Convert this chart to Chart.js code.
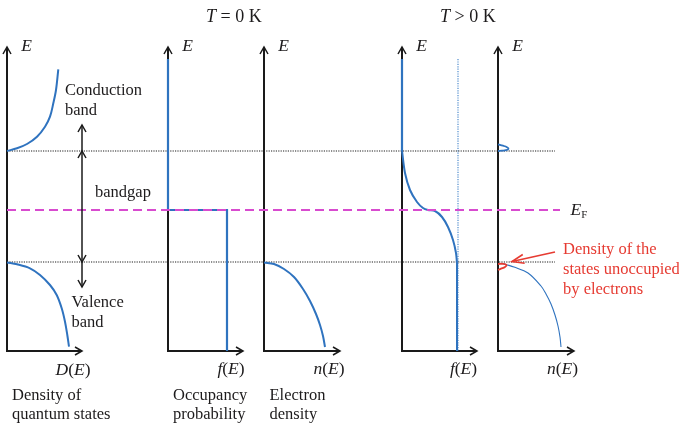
<!DOCTYPE html>
<html>
<head>
<meta charset="utf-8">
<script src="https://cdn.jsdelivr.net/npm/chart.js@4.4.1/dist/chart.umd.min.js"></script>
<style>
html,body{margin:0;padding:0;background:#ffffff;}
#wrap{width:679px;height:424px;position:relative;}
</style>
</head>
<body>
<div id="wrap"><canvas id="c" width="679" height="424"></canvas></div>
<script>
// ---------- data (energy E measured upward from the horizontal axes) ----------
const E_C = 200;      // conduction band edge
const E_F = 141;      // Fermi level
const E_V = 89;       // valence band edge
const E_TOP = 292;    // top of drawn occupancy lines
const E_AXIS = 304;   // top of the energy axes

// Panel 1: density of quantum states D(E)
const dosCondX = [0, 10, 20, 30, 38, 43, 46.3, 49, 51.3];
const dosCondE = [200, 202.7, 207, 214.3, 224.3, 234.3, 247.7, 261, 281.7];
const dosValX = [0, 10, 23, 33, 43, 49.7, 54.7, 58, 60.3, 62];
const dosValE = [88.5, 86.7, 82.7, 76, 66, 56, 42.7, 29.3, 16, 4.3];

// Panel 2: occupancy probability f(E) at T = 0 K
const occ0X = [0, 0, 59, 59];
const occ0E = [292, 141, 141, 0];

// Panel 3: electron density n(E) at T = 0 K
const dens0X = [0, 10, 20, 30, 39, 46, 52, 56, 59, 61];
const dens0E = [88.5, 87, 82, 74, 62, 50, 37, 26, 15, 4];

// Panel 4: occupancy probability f(E) at T > 0 K
const fermiX = [0, 3, 8, 15, 21, 26, 33, 40, 46, 51, 54, 55];
const fermiE = [200, 178, 161, 149, 143, 141, 140, 134, 124, 111, 98, 88];
const fermiOne = 56;   // f = 1 guide

// Panel 5: electron density n(E) at T > 0 K
const nCondX = [0, 4, 8, 10.5, 9, 5, 0];
const nCondE = [200, 200.3, 200.8, 202.3, 203.8, 205.3, 206.7];
const holeX = [0, 5, 8.5, 7, 3, 0];
const holeE = [87, 87.2, 86, 84, 82.3, 81];
const nValX = [5, 8, 16, 30, 43, 48, 53, 57, 60, 62, 63];
const nValE = [87.5, 86.5, 84, 78, 65, 57, 47, 36, 25, 14, 4];

// ---------- layout ----------
const PANEL_X = [7, 168, 264, 402, 498];
const AXIS_LEN = [75, 75, 76, 75, 76];
const REF_END = 555;
const EF_END = 560;

const BLUE = '#2f73bf';
const MAGENTA = '#d84bcf';
const RED = '#e63b32';
const INK = '#1a1a1a';
const SERIF = '"Liberation Serif", "Times New Roman", serif';

function pts(panel, xs, es) {
  return xs.map((x, i) => ({ x: PANEL_X[panel] + x, y: es[i] }));
}

const datasets = [
  // Fermi level (drawn on top)
  { data: [{x: PANEL_X[0], y: E_F}, {x: EF_END, y: E_F}], borderColor: MAGENTA, borderWidth: 2, borderDash: [9, 5], order: 0, tension: 0 },
  // curves
  { data: pts(0, dosCondX, dosCondE), borderColor: BLUE, borderWidth: 2, order: 1, tension: 0.35 },
  { data: pts(0, dosValX, dosValE), borderColor: BLUE, borderWidth: 2, order: 1, tension: 0.35 },
  { data: pts(1, occ0X, occ0E), borderColor: BLUE, borderWidth: 2.2, order: 1, tension: 0 },
  { data: pts(2, dens0X, dens0E), borderColor: BLUE, borderWidth: 2, order: 1, tension: 0.35 },
  { data: [{x: PANEL_X[3], y: E_TOP}, {x: PANEL_X[3], y: fermiE[0]}], borderColor: BLUE, borderWidth: 2.2, order: 1, tension: 0 },
  { data: pts(3, fermiX, fermiE), borderColor: BLUE, borderWidth: 2, order: 1, tension: 0.3 },
  { data: [{x: PANEL_X[3] + fermiX[fermiX.length-1], y: fermiE[fermiE.length-1]}, {x: PANEL_X[3] + fermiX[fermiX.length-1], y: 0}], borderColor: BLUE, borderWidth: 2, order: 1, tension: 0 },
  { data: pts(4, nCondX, nCondE), borderColor: BLUE, borderWidth: 1.8, order: 1, tension: 0.4 },
  { data: pts(4, holeX, holeE), borderColor: RED, borderWidth: 1.8, order: 1, tension: 0.4 },
  { data: pts(4, nValX, nValE), borderColor: BLUE, borderWidth: 1.1, order: 1, tension: 0.35 },
  // guides
  { data: [{x: PANEL_X[0], y: E_C}, {x: REF_END, y: E_C}], borderColor: '#1e1e1e', borderWidth: 1.2, borderDash: [1.2, 1.2], order: 2, tension: 0 },
  { data: [{x: PANEL_X[0], y: E_V}, {x: REF_END, y: E_V}], borderColor: '#1e1e1e', borderWidth: 1.2, borderDash: [1.2, 1.2], order: 2, tension: 0 },
  { data: [{x: PANEL_X[3] + fermiOne, y: E_TOP}, {x: PANEL_X[3] + fermiOne, y: 0}], borderColor: '#3f80c8', borderWidth: 1.1, borderDash: [1.2, 1.2], order: 2, tension: 0 }
].map(d => Object.assign({ showLine: true, pointRadius: 0, fill: false, clip: false }, d));

function head(ctx, tx, ty, fx, fy, len, half) {
  const a = Math.atan2(ty - fy, tx - fx);
  const c = Math.cos(a), s = Math.sin(a);
  ctx.beginPath();
  ctx.moveTo(tx - len * c + half * s, ty - len * s - half * c);
  ctx.lineTo(tx, ty);
  ctx.lineTo(tx - len * c - half * s, ty - len * s + half * c);
  ctx.stroke();
}

function textWidth(ctx, parts, size) {
  let w = 0;
  for (const p of parts) {
    ctx.font = (p[1] ? 'italic ' : '') + (p[2] || size) + 'px ' + SERIF;
    w += ctx.measureText(p[0]).width;
  }
  return w;
}
function runs(ctx, parts, x, y, size, color, align) {
  ctx.fillStyle = color;
  ctx.textBaseline = 'alphabetic';
  ctx.textAlign = 'left';
  let cx = x;
  if (align === 'center') cx = x - textWidth(ctx, parts, size) / 2;
  for (const p of parts) {
    ctx.font = (p[1] ? 'italic ' : '') + (p[2] || size) + 'px ' + SERIF;
    ctx.fillText(p[0], cx, y + (p[3] || 0));
    cx += ctx.measureText(p[0]).width;
  }
}

const overlay = {
  id: 'overlay',
  beforeDatasetsDraw(chart) {
    const ctx = chart.ctx, X = chart.scales.x, Y = chart.scales.y;
    ctx.save();
    ctx.strokeStyle = INK;
    ctx.lineJoin = 'miter';
    for (let i = 0; i < PANEL_X.length; i++) {
      const ox = X.getPixelForValue(PANEL_X[i]);
      const oy = Y.getPixelForValue(0);
      const top = Y.getPixelForValue(E_AXIS);
      const right = X.getPixelForValue(PANEL_X[i] + AXIS_LEN[i]);
      ctx.lineWidth = 2;
      ctx.beginPath();
      ctx.moveTo(ox, top);
      ctx.lineTo(ox, oy);
      ctx.lineTo(right, oy);
      ctx.stroke();
      ctx.lineWidth = 1.5;
      head(ctx, ox, top, ox, oy, 7, 4);
      head(ctx, right, oy, ox, oy, 7, 4);
    }
    ctx.restore();
  },
  afterDatasetsDraw(chart) {
    const ctx = chart.ctx, X = chart.scales.x, Y = chart.scales.y;
    ctx.save();
    // band-diagram arrows in panel 1
    const ax = X.getPixelForValue(PANEL_X[0] + AXIS_LEN[0]);
    const yc = Y.getPixelForValue(E_C), yv = Y.getPixelForValue(E_V);
    const yUp = Y.getPixelForValue(226), yDn = Y.getPixelForValue(64);
    ctx.strokeStyle = INK;
    ctx.lineWidth = 1.5;
    ctx.beginPath(); ctx.moveTo(ax, yUp); ctx.lineTo(ax, yDn); ctx.stroke();
    head(ctx, ax, yUp, ax, yc, 7, 4);
    head(ctx, ax, yc, ax, yv, 7, 4);
    head(ctx, ax, yv, ax, yc, 7, 4);
    head(ctx, ax, yDn, ax, yv, 7, 4);

    // red pointer in panel 5
    const rx0 = X.getPixelForValue(PANEL_X[4] + 57), ry0 = Y.getPixelForValue(99);
    const rx1 = X.getPixelForValue(PANEL_X[4] + 14), ry1 = Y.getPixelForValue(89.5);
    ctx.strokeStyle = RED;
    ctx.lineWidth = 1.6;
    ctx.beginPath(); ctx.moveTo(rx0, ry0); ctx.lineTo(rx1, ry1); ctx.stroke();
    head(ctx, rx1, ry1, rx0, ry0, 12, 4.5);

    // texts
    const TXT = '#1d1b1c';
    const S = 16.5, M = 17.5;
    runs(ctx, [['T', true], [' = 0 K', false]], 206, 22, 18, TXT);
    runs(ctx, [['T', true], [' > 0 K', false]], 440, 22, 18, TXT);
    for (let i = 0; i < PANEL_X.length; i++) {
      runs(ctx, [['E', true]], X.getPixelForValue(PANEL_X[i]) + 19.5, 51, M, TXT, 'center');
    }
    runs(ctx, [['D', true], ['(', false], ['E', true], [')', false]], 73, 375, M, TXT, 'center');
    runs(ctx, [['f', true], ['(', false], ['E', true], [')', false]], 231, 374, M, TXT, 'center');
    runs(ctx, [['n', true], ['(', false], ['E', true], [')', false]], 329, 374, M, TXT, 'center');
    runs(ctx, [['f', true], ['(', false], ['E', true], [')', false]], 463.5, 374, M, TXT, 'center');
    runs(ctx, [['n', true], ['(', false], ['E', true], [')', false]], 562.5, 374, M, TXT, 'center');

    runs(ctx, [['Conduction', false]], 65, 95, S, TXT);
    runs(ctx, [['band', false]], 65, 115, S, TXT);
    runs(ctx, [['bandgap', false]], 95, 197, S, TXT);
    runs(ctx, [['Valence', false]], 71.5, 307, S, TXT);
    runs(ctx, [['band', false]], 71.5, 327, S, TXT);

    runs(ctx, [['Density of', false]], 12, 400, S, TXT);
    runs(ctx, [['quantum states', false]], 12, 419, S, TXT);
    runs(ctx, [['Occupancy', false]], 173, 400, S, TXT);
    runs(ctx, [['probability', false]], 173, 419, S, TXT);
    runs(ctx, [['Electron', false]], 269.5, 400, S, TXT);
    runs(ctx, [['density', false]], 269.5, 419, S, TXT);

    runs(ctx, [['E', true, M], ['F', false, 11, 3]], 570.5, 215, M, TXT);

    runs(ctx, [['Density of the', false]], 563, 254, S, RED);
    runs(ctx, [['states unoccupied', false]], 563, 274, S, RED);
    runs(ctx, [['by electrons', false]], 563, 293.5, S, RED);
    ctx.restore();
  }
};

new Chart(document.getElementById('c'), {
  type: 'scatter',
  data: { datasets },
  options: {
    responsive: false,
    devicePixelRatio: 1,
    animation: false,
    events: [],
    layout: { padding: 0 },
    plugins: { legend: { display: false }, tooltip: { enabled: false }, title: { display: false } },
    scales: {
      x: { type: 'linear', min: 0, max: 679, display: false },
      y: { type: 'linear', min: -73, max: 351, display: false }
    }
  },
  plugins: [overlay]
});
</script>
</body>
</html>
